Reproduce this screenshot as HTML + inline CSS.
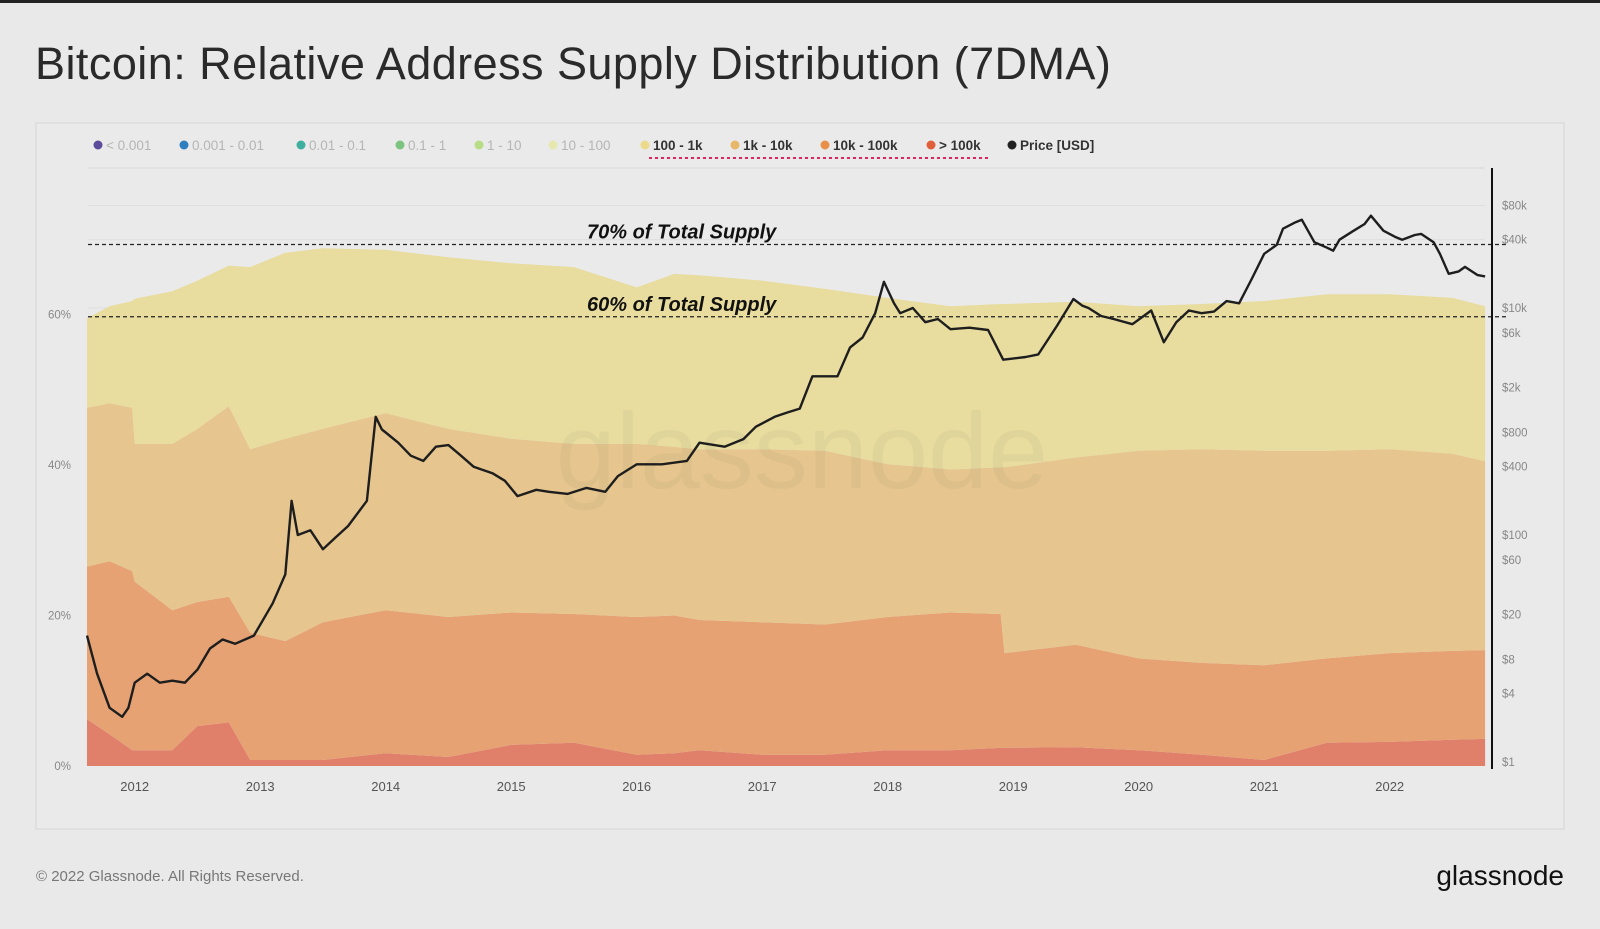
<!DOCTYPE html>
<html><head><meta charset="utf-8"><style>
html,body{margin:0;padding:0;background:#e9e9e9;}
body{width:1600px;height:924px;overflow:hidden;font-family:"Liberation Sans",sans-serif;}
</style></head><body>
<svg id="chart" width="1600" height="924" viewBox="0 0 1600 924" xmlns="http://www.w3.org/2000/svg" font-family="Liberation Sans, sans-serif">
<rect x="0" y="0" width="1600" height="924" fill="#e9e9e9"/>
<rect x="0" y="0" width="1600" height="3" fill="#222"/>
<text x="35" y="79" font-size="45" fill="#2a2a2a" letter-spacing="0.45">Bitcoin: Relative Address Supply Distribution (7DMA)</text>
<rect x="36" y="123" width="1528" height="706" fill="#eaeaea" stroke="#dcdcdc" stroke-width="1.5"/>
<g id="legend"></g>
<line x1="649" y1="158" x2="988" y2="158" stroke="#e0245e" stroke-width="2" stroke-dasharray="3,3"/>
<line x1="88" y1="168" x2="1485" y2="168" stroke="#d6d6d6"/>
<g id="grid"></g>
<g id="areas"></g>
<text x="802" y="488" font-size="108" fill="#000" fill-opacity="0.035" text-anchor="middle">glassnode</text>
<g id="annot"></g>
<path id="price" fill="none" stroke="#1e1e1e" stroke-width="2.4" stroke-linejoin="round"/>
<line x1="1492" y1="168" x2="1492" y2="769" stroke="#111" stroke-width="2"/>
<g id="axes"></g>
<text x="36" y="881" font-size="15" fill="#777">© 2022 Glassnode. All Rights Reserved.</text>
<text x="1564" y="885" font-size="28" fill="#111" text-anchor="end">glassnode</text>
</svg>
<script>
const times=[2011.62,2011.8,2011.98,2012.0,2012.3,2012.5,2012.75,2012.92,2013.2,2013.5,2014,2014.5,2015,2015.5,2016,2016.3,2016.5,2017,2017.5,2018,2018.5,2018.9,2018.93,2019.5,2020,2020.5,2021,2021.5,2022,2022.5,2022.76];
const shareGt100k=[6.2,4.2,2.1,2.1,2.1,5.3,5.8,0.8,0.8,0.8,1.7,1.2,2.8,3.1,1.5,1.7,2.1,1.5,1.5,2.1,2.1,2.4,2.4,2.5,2.1,1.5,0.8,3.1,3.2,3.5,3.6];
const share10k=[20.3,23.0,23.8,22.4,18.6,16.5,16.7,16.9,15.8,18.3,19.0,18.6,17.6,17.1,18.3,18.3,17.3,17.6,17.3,17.7,18.3,17.8,12.6,13.6,12.2,12.2,12.6,11.2,11.8,11.8,11.8];
const share1k=[21.1,21.0,21.7,18.3,22.1,23.0,25.3,24.4,26.9,25.7,26.2,25.0,23.1,22.6,23.0,22.4,22.7,23.0,23.1,20.3,19.0,19.5,24.7,24.9,27.6,28.4,28.5,27.6,27.1,26.2,25.1];
const share100=[11.9,12.9,14.2,19.3,20.3,19.7,18.7,24.2,24.7,24.0,21.7,22.8,23.3,23.5,20.8,23.0,23.1,22.4,21.5,22.1,21.7,21.7,21.7,20.7,19.2,19.3,19.9,20.8,20.6,20.7,20.6];
const priceTimes=[2011.62,2011.7,2011.8,2011.9,2011.95,2012.0,2012.1,2012.2,2012.3,2012.4,2012.5,2012.6,2012.7,2012.8,2012.95,2013.1,2013.2,2013.25,2013.3,2013.4,2013.5,2013.6,2013.7,2013.85,2013.92,2013.97,2014.0,2014.1,2014.2,2014.3,2014.4,2014.5,2014.6,2014.7,2014.85,2014.95,2015.05,2015.2,2015.3,2015.45,2015.6,2015.75,2015.85,2016.0,2016.2,2016.4,2016.5,2016.7,2016.85,2016.95,2017.1,2017.2,2017.3,2017.4,2017.6,2017.7,2017.8,2017.9,2017.97,2018.05,2018.1,2018.2,2018.3,2018.4,2018.5,2018.65,2018.8,2018.92,2019.1,2019.2,2019.35,2019.48,2019.55,2019.6,2019.7,2019.8,2019.95,2020.1,2020.2,2020.3,2020.4,2020.5,2020.6,2020.7,2020.8,2020.9,2021.0,2021.1,2021.15,2021.25,2021.3,2021.4,2021.5,2021.55,2021.6,2021.7,2021.8,2021.85,2021.95,2022.05,2022.1,2022.2,2022.25,2022.35,2022.4,2022.47,2022.55,2022.6,2022.7,2022.76];
const prices=[13,6,3,2.5,3,5,6,5,5.2,5,6.5,10,12,11,13,25,45,200,100,110,75,95,120,200,1100,850,800,650,500,450,600,620,500,400,350,300,220,250,240,230,260,240,330,420,420,450,650,600,700,900,1100,1200,1300,2500,2500,4500,5500,9000,17000,11000,9000,10000,7500,8000,6500,6700,6400,3500,3700,3900,7000,12000,10500,10000,8500,8000,7200,9500,5000,7500,9500,9000,9300,11500,11000,18000,30000,36000,50000,57000,60000,38000,34000,32000,40000,47000,55000,65000,48000,42000,40000,44000,45000,38000,30000,20000,21000,23000,19500,19000];
const pctTicks=[0,20,40,60];
const priceTicks=[1,4,8,20,60,100,400,800,2000,6000,10000,40000,80000];
const priceTickLabels=["$1","$4","$8","$20","$60","$100","$400","$800","$2k","$6k","$10k","$40k","$80k"];
const yearTicks=[2012,2013,2014,2015,2016,2017,2018,2019,2020,2021,2022];
const legendLabels=["< 0.001","0.001 - 0.01","0.01 - 0.1","0.1 - 1","1 - 10","10 - 100","100 - 1k","1k - 10k","10k - 100k","> 100k","Price [USD]"];
const legendColors=["#5b4b9b","#2f7fbf","#3fb0a0","#7cc47f","#b8dc85","#e6e8b0","#ecd98a","#e8b86a","#e8904a","#e0603a","#222"];
const legendActive=[0,0,0,0,0,0,1,1,1,1,1];
const legendX=[98,184,301,400,479,553,645,735,825,931,1012];
const line70=69.3, line60=59.7;

const NS="http://www.w3.org/2000/svg";
const xS=t=>134.7+(t-2012)*125.5;
const yP=p=>766-p*7.525;
const yL=v=>762-Math.log10(v)*113.5;
function mk(tag,attrs,parent){const e=document.createElementNS(NS,tag);for(const k in attrs)e.setAttribute(k,attrs[k]);parent.appendChild(e);return e;}

const lg=document.getElementById('legend');
legendLabels.forEach((lab,i)=>{
  const c=mk('circle',{cx:legendX[i],cy:145,r:4.5,fill:legendColors[i]},lg);
  
  
  const t=mk('text',{x:legendX[i]+8,y:150,'font-size':13.5,fill:legendActive[i]?'#333':'#b5b5b5','font-weight':legendActive[i]?'bold':'normal'},lg);
  t.textContent=lab;
  
  
});

const gg=document.getElementById('grid');
priceTicks.forEach(v=>{
  const l=mk('line',{x1:88,x2:1485,y1:yL(v),y2:yL(v),stroke:'#dedede','stroke-width':1},gg);
  
  
});

const ag=document.getElementById('areas');
const series=[shareGt100k,share10k,share1k,share100];
const colors=["#e07f6a","#e6a273","#e6c68e","#e8dc9f"];
const names=["area-gt-100k","area-10k-100k","area-1k-10k","area-100-1k"];
let base=times.map(()=>0);
series.forEach((s,si)=>{
  const top=base.map((b,i)=>b+s[i]);
  let d='M'+times.map((t,i)=>xS(t).toFixed(1)+','+yP(top[i]).toFixed(1)).join('L');
  for(let i=times.length-1;i>=0;i--)d+='L'+xS(times[i]).toFixed(1)+','+yP(base[i]).toFixed(1);
  d+='Z';
  const p=mk('path',{d:d,fill:colors[si]},ag);
  
  
  base=top;
});

const an=document.getElementById('annot');
[[line70,"70% of Total Supply","line-70pct"],[line60,"60% of Total Supply","line-60pct"]].forEach(a=>{
  const y=yP(a[0]);
  const l=mk('line',{x1:88,x2:1508,y1:y,y2:y,stroke:'#222','stroke-width':1.3,'stroke-dasharray':'4,3'},an);
  
  
  const t=mk('text',{x:587,y:y-6,'font-size':20,'font-weight':'bold','font-style':'italic',fill:'#111'},an);
  t.textContent=a[1];
  
  
});

document.getElementById('price').setAttribute('d','M'+priceTimes.map((t,i)=>xS(t).toFixed(1)+','+yL(prices[i]).toFixed(1)).join('L'));

const ax=document.getElementById('axes');
pctTicks.forEach(p=>{
  const t=mk('text',{x:71,y:yP(p)+4,'font-size':11.5,fill:'#888','text-anchor':'end'},ax);
  t.textContent=p+'%';
  
  
});
priceTicks.forEach((v,i)=>{
  const t=mk('text',{x:1502,y:yL(v)+4,'font-size':11.5,fill:'#888'},ax);
  t.textContent=priceTickLabels[i];
  
  
});
yearTicks.forEach(yr=>{
  const t=mk('text',{x:xS(yr),y:791,'font-size':13,fill:'#555','text-anchor':'middle'},ax);
  t.textContent=yr;
  
  
});
</script>
</body></html>
